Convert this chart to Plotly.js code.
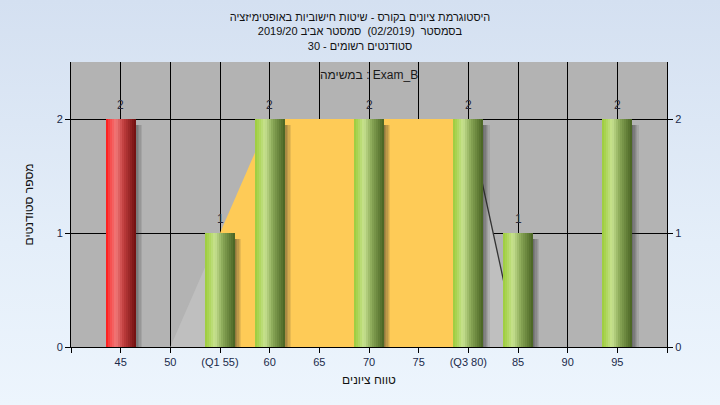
<!DOCTYPE html>
<html>
<head>
<meta charset="utf-8">
<script src="https://cdn.plot.ly/plotly-3.0.1.min.js"></script>
<style>
  html, body { margin: 0; padding: 0; }
  body { width: 720px; height: 405px; background: linear-gradient(to bottom, #d4e0f1 0%, #e4eef9 60%, #edf5fd 100%); }
  #chart { width: 720px; height: 405px; }
</style>
</head>
<body>
<div id="chart"></div>
<script>
// ---- data ----
const binCenters = [45, 55, 60, 70, 80, 85, 95];
const studentCounts = [2, 1, 2, 2, 2, 1, 2];
const binStatus = ['fail', 'pass', 'pass', 'pass', 'pass', 'pass', 'pass'];
const tickValues = [40, 45, 50, 55, 60, 65, 70, 75, 80, 85, 90, 95, 100];
const tickLabels = ['', '45', '50', '(Q1 55)', '60', '65', '70', '75', '(Q3 80)', '85', '90', '95', ''];
const q1 = 55;
const q3 = 80;
const spreadX = [50, 60, 80, 85];
const spreadY = [0, 2, 2, 0];
const titleLines = [
  'היסטוגרמת ציונים בקורס - שיטות חישוביות באופטימיזציה',
  'בסמסטר  (02/2019)  סמסטר אביב 2019/20',
  'סטודנטים רשומים - 30'
];
const taskLabel = 'במשימה : Exam_B';
const xTitle = 'טווח ציונים';
const yTitle = 'מספר סטודנטים';

// ---- styling helpers ----
const barWidth = 3;
const nSlices = 15;
const gradients = {
  pass: [[0, [156, 204, 60]], [0.12, [170, 212, 84]], [0.33, [200, 226, 145]], [0.6, [135, 165, 85]], [1, [72, 98, 34]]],
  fail: [[0, [255, 20, 20]], [0.12, [248, 70, 70]], [0.33, [240, 120, 120]], [0.6, [190, 60, 60]], [1, [110, 14, 14]]]
};
function gradColor(stops, t) {
  for (let i = 1; i < stops.length; i++) {
    if (t <= stops[i][0]) {
      const a = stops[i - 1], b = stops[i];
      const f = (t - a[0]) / (b[0] - a[0]);
      const c = a[1].map((v, k) => Math.round(v + (b[1][k] - v) * f));
      return 'rgb(' + c.join(',') + ')';
    }
  }
  const l = stops[stops.length - 1][1];
  return 'rgb(' + l.join(',') + ')';
}
function interp(x) {
  for (let i = 1; i < spreadX.length; i++) {
    if (x <= spreadX[i]) {
      const f = (x - spreadX[i - 1]) / (spreadX[i] - spreadX[i - 1]);
      return spreadY[i - 1] + (spreadY[i] - spreadY[i - 1]) * f;
    }
  }
  return spreadY[spreadY.length - 1];
}

const traces = [];

// spread areas (main axes, drawn underneath)
const leftX = [], leftY = [];
spreadX.forEach((x, i) => { if (x < q1) { leftX.push(x); leftY.push(spreadY[i]); } });
leftX.push(q1, q1); leftY.push(interp(q1), 0);
const midX = [q1, q1], midY = [0, interp(q1)];
spreadX.forEach((x, i) => { if (x > q1 && x < q3) { midX.push(x); midY.push(spreadY[i]); } });
midX.push(q3, q3); midY.push(interp(q3), 0);
const rightX = [q3, q3], rightY = [0, interp(q3)];
spreadX.forEach((x, i) => { if (x > q3) { rightX.push(x); rightY.push(spreadY[i]); } });

traces.push({ type: 'scatter', x: leftX, y: leftY, fill: 'toself', fillcolor: '#bfbfbf', mode: 'none', hoverinfo: 'skip', showlegend: false });
traces.push({ type: 'scatter', x: rightX, y: rightY, fill: 'toself', fillcolor: '#bfbfbf', mode: 'none', hoverinfo: 'skip', showlegend: false });
traces.push({ type: 'scatter', x: midX, y: midY, fill: 'toself', fillcolor: '#fecb57', mode: 'none', hoverinfo: 'skip', showlegend: false });
traces.push({ type: 'scatter', x: rightX.slice(1), y: rightY.slice(1), mode: 'lines', line: { color: '#333333', width: 1.3 }, hoverinfo: 'skip', showlegend: false });

// shadows (overlay axis, drawn on top of areas)
const shadowSteps = 5;
for (let s = 0; s < shadowSteps; s++) {
  const a = 0.5 * (1 - s / shadowSteps);
  traces.push({
    type: 'bar', x: binCenters, y: studentCounts.map(v => v - 0.05), yaxis: 'y2',
    width: binCenters.map(() => 0.14), offset: binCenters.map(() => barWidth / 2 + s * 0.14 - 0.05),
    marker: { color: 'rgba(40,40,40,' + a.toFixed(2) + ')', line: { width: 0 } },
    hoverinfo: 'skip', showlegend: false
  });
}

// gradient bar slices
const sw = barWidth / nSlices;
for (let i = 0; i < nSlices; i++) {
  const t = (i + 0.5) / nSlices;
  traces.push({
    type: 'bar', x: binCenters, y: studentCounts, yaxis: 'y2',
    width: binCenters.map(() => (i === nSlices - 1 ? sw : sw * 1.4)),
    offset: binCenters.map(() => -barWidth / 2 + i * sw),
    marker: { color: binStatus.map(st => gradColor(gradients[st], t)), line: { width: 0 } },
    hoverinfo: 'skip', showlegend: false
  });
}

const annotations = binCenters.map((x, i) => ({
  x: x, y: studentCounts[i], text: String(studentCounts[i]), showarrow: false,
  yanchor: 'bottom', yshift: 5, font: { family: 'Liberation Sans, Arial, sans-serif', size: 12, color: '#2a2a3a' }
}));
annotations.push({
  xref: 'paper', yref: 'paper', x: 0.5, y: 1, yanchor: 'top', yshift: -4,
  text: taskLabel, showarrow: false,
  font: { family: 'Liberation Sans, Arial, sans-serif', size: 12, color: '#1a1a1a' }
});

const tickFont = { family: 'Liberation Sans, Arial, sans-serif', size: 11, color: '#1a2a4a' };
const layout = {
  width: 720, height: 405,
  paper_bgcolor: 'rgba(0,0,0,0)', plot_bgcolor: '#b3b3b3',
  margin: { l: 71, r: 53, t: 62, b: 58 },
  barmode: 'overlay', bargap: 0,
  title: {
    text: titleLines.join('<br>'), x: 0.5, xanchor: 'center', y: 0.948, yanchor: 'top', yref: 'container',
    font: { family: 'Liberation Sans, Arial, sans-serif', size: 11, color: '#111111' }
  },
  xaxis: {
    range: [40, 100], tickmode: 'array', tickvals: tickValues, ticktext: tickLabels,
    showgrid: true, gridcolor: '#000000', gridwidth: 1,
    ticks: 'outside', ticklen: 5, tickcolor: '#000000', showline: true, linecolor: '#000000', linewidth: 1,
    zeroline: false, tickfont: tickFont,
    title: { text: xTitle, font: { family: 'Liberation Sans, Arial, sans-serif', size: 12, color: '#111111' }, standoff: 8 }
  },
  yaxis: {
    range: [0, 2.5], tickvals: [0, 1, 2], ticktext: ['0', '1', '2'],
    showgrid: true, gridcolor: '#000000', gridwidth: 1,
    ticks: 'outside', ticklen: 5, tickcolor: '#000000', showline: true, linecolor: '#000000', linewidth: 1,
    zeroline: false, tickfont: tickFont,
    title: { text: yTitle, font: { family: 'Liberation Sans, Arial, sans-serif', size: 12, color: '#111111' }, standoff: 20 }
  },
  yaxis2: {
    range: [0, 2.5], tickvals: [0, 1, 2], ticktext: ['0', '1', '2'], overlaying: 'y', side: 'right',
    showgrid: false, ticks: 'outside', ticklen: 5, tickcolor: '#000000', showline: true, linecolor: '#000000', linewidth: 1,
    zeroline: false, tickfont: tickFont
  },
  annotations: annotations
};

Plotly.newPlot('chart', traces, layout, { displayModeBar: false, staticPlot: true });
</script>
</body>
</html>
